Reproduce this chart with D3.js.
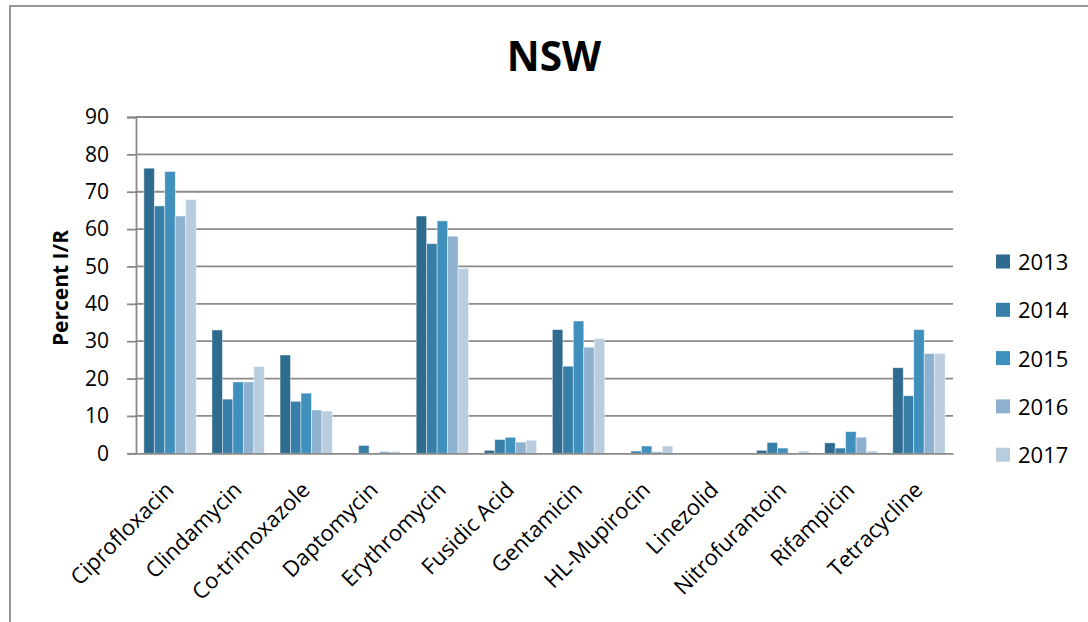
<!DOCTYPE html>
<html>
<head>
<meta charset="utf-8">
<script src="https://cdn.jsdelivr.net/npm/d3@7"></script>
<style>
  html, body { margin: 0; padding: 0; background: #ffffff; }
  svg { display: block; font-family: "Open Sans", "DejaVu Sans", sans-serif; }
</style>
</head>
<body>
<svg id="chart" width="1088" height="622"></svg>
<script>
// Antibiotic categories and percent intermediate/resistant per year
const categories = ["Ciprofloxacin", "Clindamycin", "Co-trimoxazole", "Daptomycin", "Erythromycin",
  "Fusidic Acid", "Gentamicin", "HL-Mupirocin", "Linezolid", "Nitrofurantoin", "Rifampicin", "Tetracycline"];
const years = ["2013", "2014", "2015", "2016", "2017"];
const pct2013 = [76.3, 33.0, 26.3, 0, 63.5, 0.8, 33.1, 0, 0, 0.8, 2.8, 22.9];
const pct2014 = [66.2, 14.5, 13.9, 2.1, 56.1, 3.7, 23.3, 0.6, 0, 2.9, 1.4, 15.4];
const pct2015 = [75.4, 19.1, 16.1, 0, 62.2, 4.3, 35.4, 1.95, 0, 1.4, 5.8, 33.1];
const pct2016 = [63.5, 19.1, 11.6, 0.5, 58.1, 3.0, 28.4, 0.4, 0, 0, 4.3, 26.7];
const pct2017 = [67.9, 23.2, 11.3, 0.5, 49.5, 3.5, 30.7, 1.95, 0, 0.6, 0.6, 26.7];
const yTicks = [0, 10, 20, 30, 40, 50, 60, 70, 80, 90];
const seriesColors = ["#2e6b8e", "#377fa8", "#4090bd", "#8eb1cf", "#b9cddf"];

const seriesValues = [pct2013, pct2014, pct2015, pct2016, pct2017];
const rows = [];
categories.forEach((c, i) => {
  years.forEach((yr, j) => rows.push({ category: c, year: yr, value: seriesValues[j][i] }));
});

const svg = d3.select("#chart");

// Outer chart frame
svg.append("rect")
  .attr("x", 10).attr("y", 6)
  .attr("width", 1200).attr("height", 800)
  .attr("fill", "none").attr("stroke", "#8c8c8c").attr("stroke-width", 1.8);

const x = d3.scaleBand().domain(categories).range([136, 953]).paddingInner(0).paddingOuter(0);
const xInner = d3.scaleBand().domain(years).range([0, x.bandwidth()]).paddingInner(0).paddingOuter(0.75);
const y = d3.scaleLinear().domain([0, 90]).range([453.3, 117]);
const color = d3.scaleOrdinal().domain(years).range(seriesColors);

// Horizontal gridlines
svg.append("g")
  .selectAll("line")
  .data(yTicks.filter(t => t > 0))
  .join("line")
  .attr("x1", 136).attr("x2", 953)
  .attr("y1", d => y(d)).attr("y2", d => y(d))
  .attr("stroke", "#8a8a8a").attr("stroke-width", 1.8);

// Bars
svg.append("g")
  .selectAll("rect")
  .data(rows.filter(d => d.value > 0))
  .join("rect")
  .attr("x", d => x(d.category) + xInner(d.year))
  .attr("y", d => y(d.value))
  .attr("width", xInner.bandwidth())
  .attr("height", d => y(0) - y(d.value))
  .attr("fill", d => color(d.year))
  .attr("stroke", "#ffffff").attr("stroke-opacity", 0.55).attr("stroke-width", 0.8);

// Y axis
const yAxis = d3.axisLeft(y).tickValues(yTicks).tickSize(9).tickPadding(18);
const gy = svg.append("g").attr("transform", "translate(136,0)").call(yAxis);
gy.select(".domain").attr("stroke", "#8a8a8a").attr("stroke-width", 1.8);
gy.selectAll(".tick line").attr("stroke", "#8a8a8a").attr("stroke-width", 1.8);
gy.selectAll(".tick text")
  .attr("font-family", "Open Sans").attr("font-size", 21).attr("fill", "#000");

// X axis baseline and rotated category labels
const xAxis = d3.axisBottom(x).tickSize(0).tickPadding(0);
const gx = svg.append("g").attr("transform", `translate(0,${y(0)})`).call(xAxis);
gx.select(".domain").attr("stroke", "#8a8a8a").attr("stroke-width", 1.8);
gx.selectAll(".tick text")
  .attr("font-family", "Open Sans").attr("font-size", 22).attr("fill", "#000")
  .attr("text-anchor", "end")
  .attr("dy", null)
  .attr("y", 0)
  .attr("transform", "translate(5,38) rotate(-45)");

// Y axis title
svg.append("text")
  .attr("transform", "translate(68,288) rotate(-90)")
  .attr("text-anchor", "middle")
  .attr("font-weight", "bold").attr("font-size", 21)
  .text("Percent I/R");

// Chart title
svg.append("text")
  .attr("x", 554).attr("y", 70.7)
  .attr("text-anchor", "middle")
  .attr("font-weight", "bold").attr("font-size", 40.5)
  .text("NSW");

// Legend
const legend = svg.append("g")
  .selectAll("g")
  .data(years)
  .join("g")
  .attr("transform", (d, i) => `translate(996,${262 + i * 48.3})`);
legend.append("rect")
  .attr("x", 0).attr("y", -7.5).attr("width", 14).attr("height", 14)
  .attr("fill", d => color(d));
legend.append("text")
  .attr("x", 22).attr("y", 0).attr("dy", "0.36em")
  .attr("font-size", 22)
  .text(d => d);
</script>
</body>
</html>
